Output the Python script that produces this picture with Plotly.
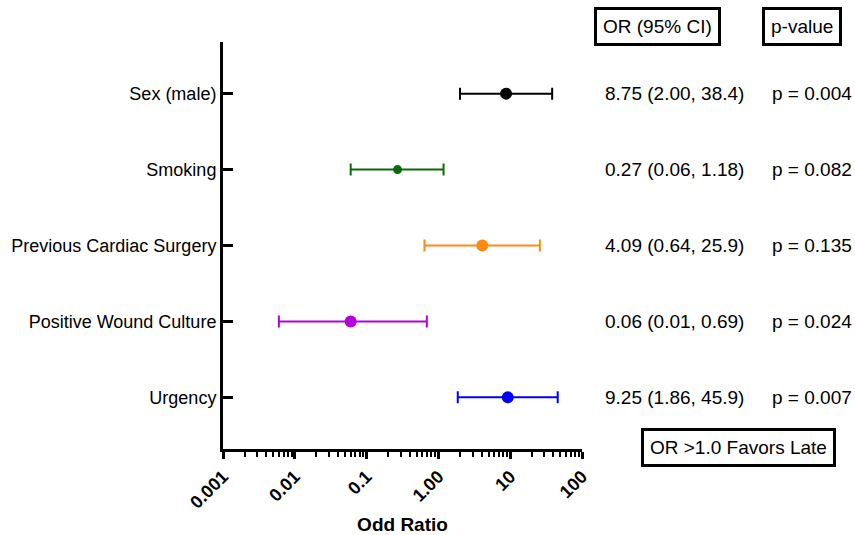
import plotly.graph_objects as go

categories = ["Sex (male)", "Smoking", "Previous Cardiac Surgery", "Positive Wound Culture", "Urgency"]
or_vals = [8.75, 0.27, 4.09, 0.06, 9.25]
ci_low = [2.00, 0.06, 0.64, 0.006, 1.86]
ci_high = [38.4, 1.18, 25.9, 0.69, 45.9]
or_text = ["8.75 (2.00, 38.4)", "0.27 (0.06, 1.18)", "4.09 (0.64, 25.9)", "0.06 (0.01, 0.69)", "9.25 (1.86, 45.9)"]
p_text = ["p = 0.004", "p = 0.082", "p = 0.135", "p = 0.024", "p = 0.007"]
colors = ["#000000", "#0b6b0b", "#ff8a12", "#b300e0", "#0000ff"]
marker_sizes = [12, 9, 12, 12, 12]
tick_vals = [0.001, 0.01, 0.1, 1, 10, 100]
tick_text = ["0.001", "0.01", "0.1", "1.00", "10", "100"]
minor_vals = [m * d for d in [0.001, 0.01, 0.1, 1, 10] for m in range(2, 10)]

FONT = "Liberation Sans, Arial, sans-serif"

fig = go.Figure()
for i, cat in enumerate(categories):
    fig.add_trace(go.Scatter(
        x=[or_vals[i]], y=[cat], mode="markers",
        marker=dict(color=colors[i], size=marker_sizes[i]),
        error_x=dict(type="data", symmetric=False,
                     array=[ci_high[i] - or_vals[i]],
                     arrayminus=[or_vals[i] - ci_low[i]],
                     color=colors[i], thickness=2, width=6),
        showlegend=False, hoverinfo="skip",
    ))
    fig.add_annotation(x=1.0585, xref="paper", y=cat, yref="y", text=or_text[i],
                       showarrow=False, xanchor="left", yanchor="middle",
                       font=dict(size=19, color="black", family=FONT))
    fig.add_annotation(x=1.5237, xref="paper", y=cat, yref="y", text=p_text[i],
                       showarrow=False, xanchor="left", yanchor="middle",
                       font=dict(size=19, color="black", family=FONT))

box_font = dict(size=19, color="black", family=FONT)
box_style = dict(showarrow=False, font=box_font, bordercolor="black", borderwidth=3, borderpad=6,
                 bgcolor="white", xanchor="center", yanchor="middle", xref="paper", yref="paper")
fig.add_annotation(x=1.209, y=1.039, text="OR (95% CI)", **box_style)
fig.add_annotation(x=1.6128, y=1.039, text="p-value", **box_style)
fig.add_annotation(x=1.436, y=0.004, text="OR >1.0 Favors Late", **box_style)

fig.add_shape(type="line", xref="x", yref="paper", x0=0, x1=0, y0=0, y1=1.01,
              line=dict(color="black", width=2, dash="dot"))

fig.update_layout(
    width=855, height=535,
    margin=dict(l=223, r=273, t=42, b=86),
    paper_bgcolor="white", plot_bgcolor="white",
    font=dict(family=FONT, color="black"),
    xaxis=dict(type="log", range=[-3, 2], tickmode="array", tickvals=tick_vals, ticktext=tick_text,
               tickangle=-45, tickfont=dict(size=18, family=FONT, weight="bold"),
               showline=True, linecolor="black", linewidth=3, mirror=False,
               ticks="outside", ticklen=7, tickwidth=3, tickcolor="black",
               minor=dict(tickmode="array", tickvals=minor_vals, ticks="outside", ticklen=5,
                          tickwidth=2, tickcolor="black", showgrid=False),
               showgrid=False, zeroline=False, automargin=False,
               title=dict(text="Odd Ratio", font=dict(size=19, family=FONT, weight="bold"), standoff=14)),
    yaxis=dict(type="category", categoryorder="array", categoryarray=categories,
               range=[4.68, -0.68], tickfont=dict(size=18, family=FONT),
               showline=True, linecolor="black", linewidth=3,
               ticks="inside", ticklen=10, tickwidth=3, tickcolor="black",
               showgrid=False, zeroline=False, automargin=False),
)

fig.write_html("out.html", config={"displayModeBar": False},
               post_script="document.body.style.margin='0px';document.body.style.overflow='hidden';")
